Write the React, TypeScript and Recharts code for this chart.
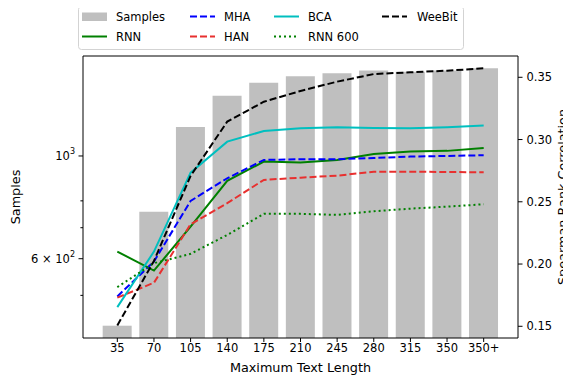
import React from 'react';
import { ComposedChart, Bar, Line, XAxis, YAxis, Legend, ReferenceLine, Label } from 'recharts';

const categories = ['35', '70', '105', '140', '175', '210', '245', '280', '315', '350', '350+'];
const samples = [430, 758, 1155, 1349, 1439, 1486, 1509, 1529, 1521, 1529, 1546];
const rnn = [0.21, 0.1948, 0.23, 0.2668, 0.2823, 0.2815, 0.2836, 0.2884, 0.2903, 0.2909, 0.2933];
const mha = [0.174, 0.202, 0.2507, 0.2689, 0.2836, 0.2842, 0.2842, 0.2852, 0.2863, 0.2868, 0.2874];
const han = [0.173, 0.185, 0.232, 0.2489, 0.2676, 0.2694, 0.271, 0.2742, 0.2742, 0.2739, 0.2737];
const bca = [0.1654, 0.21, 0.2734, 0.2983, 0.3069, 0.3091, 0.3099, 0.3093, 0.3091, 0.3099, 0.3112];
const rnn600 = [0.1815, 0.2007, 0.2082, 0.2234, 0.2403, 0.2403, 0.2395, 0.2424, 0.2445, 0.2461, 0.248];
const weebit = [0.1507, 0.2025, 0.2708, 0.3144, 0.3304, 0.339, 0.3465, 0.3526, 0.354, 0.3553, 0.3572];

const leftTicks = [500, 600, 700, 800, 900, 1000];
const leftTickLabels: Record<number, [string, string]> = { 600: ['6 × 10', '2'], 1000: ['10', '3'] };
const leftDomain: [number, number] = [404.5, 1644];
const rightTicks = [0.15, 0.2, 0.25, 0.3, 0.35];
const rightDomain: [number, number] = [0.1406, 0.3671];

const FONT = 'DejaVu Sans';

type Series = { key: string; name: string; color: string; dash?: string; values: number[] };
const series: Series[] = [
  { key: 'rnn', name: 'RNN', color: '#008000', values: rnn },
  { key: 'mha', name: 'MHA', color: '#0000ff', dash: '7 3', values: mha },
  { key: 'han', name: 'HAN', color: '#e8302f', dash: '7 3', values: han },
  { key: 'bca', name: 'BCA', color: '#00bfbf', values: bca },
  { key: 'rnn600', name: 'RNN 600', color: '#008000', dash: '2 3', values: rnn600 },
  { key: 'weebit', name: 'WeeBit', color: '#000000', dash: '7 3', values: weebit },
];

const data = categories.map((c, i) => {
  const row: Record<string, number | string> = { cat: c, samples: samples[i] };
  series.forEach((s) => {
    row[s.key] = s.values[i];
  });
  return row;
});

const LeftTick = (props: any) => {
  const { x, y, payload } = props;
  const v = payload.value as number;
  const lab = leftTickLabels[v];
  const len = lab ? 4.5 : 2.6;
  return (
    <g>
      <line x1={x - len} x2={x} y1={y} y2={y} stroke="#000" strokeWidth={1} />
      {lab && (
        <text x={x - 8} y={y} textAnchor="end" dominantBaseline="central" fontFamily={FONT} fontSize={11.5} fill="#000">
          <tspan>{lab[0]}</tspan>
          <tspan dy={-5} fontSize={8}>{lab[1]}</tspan>
        </text>
      )}
    </g>
  );
};

const legendCols: { label: string; key: string; x: number; tx: number; row: number }[] = [
  { label: 'Samples', key: 'samples', x: 4, tx: 38, row: 0 },
  { label: 'RNN', key: 'rnn', x: 4, tx: 38, row: 1 },
  { label: 'MHA', key: 'mha', x: 112, tx: 146, row: 0 },
  { label: 'HAN', key: 'han', x: 112, tx: 146, row: 1 },
  { label: 'BCA', key: 'bca', x: 196, tx: 230, row: 0 },
  { label: 'RNN 600', key: 'rnn600', x: 196, tx: 230, row: 1 },
  { label: 'WeeBit', key: 'weebit', x: 304, tx: 339, row: 0 },
];

const LegendBox = () => {
  const rows = [10.5, 30.5];
  return (
    <svg width={386} height={44} style={{ display: 'block' }}>
      <rect x={0.5} y={0.5} width={385} height={43} rx={3} ry={3} fill="rgba(255,255,255,0.8)" stroke="#d3d3d3" strokeWidth={1} />
      {legendCols.map((it) => {
        const cy = rows[it.row];
        const s = series.find((q) => q.key === it.key);
        return (
          <g key={it.key}>
            {it.key === 'samples' ? (
              <rect x={it.x} y={cy - 4} width={25} height={8.5} fill="#bfbfbf" />
            ) : (
              <line x1={it.x} x2={it.x + 25} y1={cy} y2={cy} stroke={s!.color} strokeWidth={2} strokeDasharray={s!.dash} />
            )}
            <text x={it.tx} y={cy} dominantBaseline="central" fontFamily={FONT} fontSize={11.5} fill="#000">
              {it.label}
            </text>
          </g>
        );
      })}
    </svg>
  );
};

export default function App() {
  return (
    <ComposedChart width={563} height={367} data={data} margin={{ top: 48, right: 8, bottom: 7, left: 15 }}>
      <XAxis
        dataKey="cat"
        interval={0}
        padding={{ left: 16, right: 16 }}
        height={30}
        tickSize={4}
        tickMargin={2}
        tick={{ fill: '#000', fontSize: 11.5, fontFamily: FONT }}
        axisLine={{ stroke: '#000', strokeWidth: 1 }}
        tickLine={{ stroke: '#000', strokeWidth: 1 }}
      >
        <Label
          content={(p: any) => {
            const vb = p.viewBox || { x: 75, y: 330, width: 435 };
            return (
              <text x={vb.x + vb.width / 2} y={vb.y + 34} textAnchor="middle" fontFamily={FONT} fontSize={12.8} fill="#000">
                Maximum Text Length
              </text>
            );
          }}
        />
      </XAxis>
      <YAxis
        yAxisId="left"
        scale="log"
        type="number"
        domain={leftDomain}
        allowDataOverflow
        ticks={leftTicks}
        width={60}
        tickSize={0}
        tickMargin={0}
        tickLine={false}
        tick={<LeftTick />}
        axisLine={{ stroke: '#000', strokeWidth: 1 }}
      >
        <Label
          content={() => (
            <text x={11.5} y={189} transform="rotate(-90 11.5 189)" textAnchor="middle" fontFamily={FONT} fontSize={12.8} fill="#000">
              Samples
            </text>
          )}
        />
      </YAxis>
      <YAxis
        yAxisId="right"
        orientation="right"
        type="number"
        domain={rightDomain}
        allowDataOverflow
        ticks={rightTicks}
        width={45}
        tickSize={4.5}
        tickMargin={4}
        tickFormatter={(v: number) => v.toFixed(2)}
        tick={{ fill: '#000', fontSize: 11.5, fontFamily: FONT }}
        axisLine={{ stroke: '#000', strokeWidth: 1 }}
        tickLine={{ stroke: '#000', strokeWidth: 1 }}
      >
        <Label
          content={() => (
            <text x={559} y={189} transform="rotate(-90 559 189)" textAnchor="middle" fontFamily={FONT} fontSize={12.8} fill="#000">
              Spearman Rank Correlation
            </text>
          )}
        />
      </YAxis>
      <Bar yAxisId="left" dataKey="samples" name="Samples" fill="#bfbfbf" barCategoryGap="10%" isAnimationActive={false} />
      {series.map((s) => (
        <Line
          key={s.key}
          yAxisId="right"
          type="linear"
          dataKey={s.key}
          name={s.name}
          stroke={s.color}
          strokeWidth={2}
          strokeDasharray={s.dash}
          dot={false}
          activeDot={false}
          isAnimationActive={false}
        />
      ))}
      <ReferenceLine yAxisId="right" y={rightDomain[1]} stroke="#000" strokeWidth={1} />
      <Legend
        layout="horizontal"
        verticalAlign="middle"
        align="center"
        wrapperStyle={{ position: 'absolute', top: -2, left: 70, width: 386, height: 44 }}
        content={() => <LegendBox />}
      />
    </ComposedChart>
  );
}
